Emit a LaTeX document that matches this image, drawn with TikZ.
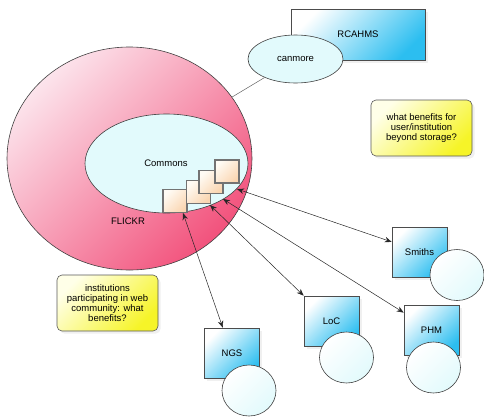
\documentclass[tikz,border=0pt]{standalone}
\usepackage{fontspec}
\setmainfont{Liberation Sans}
\usetikzlibrary{shapes.geometric,shadows,arrows.meta}
\definecolor{flickrlight}{RGB}{252,228,236}
\definecolor{flickrdark}{RGB}{242,82,124}
\definecolor{commonsfill}{RGB}{226,250,252}
\definecolor{orgblue}{RGB}{44,190,240}
\definecolor{notelight}{RGB}{255,255,232}
\definecolor{notedark}{RGB}{246,244,40}
\definecolor{photolight}{RGB}{255,251,244}
\definecolor{photodark}{RGB}{250,214,178}
\begin{document}
\begin{tikzpicture}[x=1pt,y=-1pt,font=\fontsize{9.5}{9.8}\selectfont,
  blob/.style={ellipse, draw=black!75, line width=0.6pt, inner sep=0pt},
  dot/.style={blob, top color=white, bottom color=commonsfill, shading angle=45, minimum width=54pt, minimum height=51pt},
  org/.style={rectangle, draw=black!70, line width=0.6pt, top color=white, bottom color=orgblue, shading angle=45, drop shadow={opacity=0.12}},
  inst/.style={org, minimum width=55pt, minimum height=50pt},
  note/.style={rectangle, rounded corners=5pt, draw=black!65, line width=0.6pt, top color=notelight, bottom color=notedark, shading angle=45, align=center, minimum width=101pt, minimum height=56pt, drop shadow={opacity=0.12}},
  photo/.style={rectangle, draw=black!55, line width=1.1pt, top color=photolight, bottom color=photodark, shading angle=45, minimum width=24pt, minimum height=23pt},
  link/.style={{Stealth[length=7pt,width=5.5pt]}-{Stealth[length=7pt,width=5.5pt]}, line width=0.5pt, black!85}]
\useasboundingbox (0,0) rectangle (484,418);

\node[blob, top color=flickrlight, bottom color=flickrdark, shading angle=45, minimum width=245pt, minimum height=223pt] (flickr) at (129.5,158.5){};
\node[blob, fill=commonsfill, minimum width=163pt, minimum height=99pt] (commons) at (166.5,163.5){};
\node (commonslbl) at (166,163) {Commons};
\node (flickrlbl) at (128,221) {FLICKR};

\node[org, minimum width=134pt, minimum height=51pt] (rcahms) at (358,34.5){RCAHMS};
\node[blob, fill=commonsfill, minimum width=95pt, minimum height=48pt] (canmore) at (295.5,59){canmore};
\draw[line width=0.5pt, black!60] (canmore) -- (flickr);

\node[note] (storage) at (421.5,128){what benefits for\\user/institution\\beyond storage?};
\node[note] (webq) at (107.5,303){institutions\\participating in web\\community: what\\benefits?};

\node[photo] (ph1) at (175,201){};
\node[photo] (ph2) at (198.5,192){};
\node[photo] (ph3) at (211,182){};
\node[photo] (ph4) at (227,171.5){};

\node[inst] (smiths) at (419.5,252){Smiths};
\node[dot] (smithsc) at (457,275){};
\node[inst] (loc) at (331.5,321){LoC};
\node[dot] (locc) at (346.5,357.5){};
\node[inst] (phm) at (431.5,330){PHM};
\node[dot] (phmc) at (433.5,367.5){};
\node[inst] (ngs) at (232,353){NGS};
\node[dot] (ngsc) at (249,390.5){};

\coordinate (tip1) at (183,213);
\coordinate (tip2) at (210,205);
\coordinate (tip3) at (223,199);
\coordinate (tip4) at (237,189);
\draw[link] (tip1) -- (ngs.110);
\draw[link] (tip2) -- (loc.north west);
\draw[link] (tip3) -- (phm.148);
\draw[link] (tip4) -- (smiths.160);

\end{tikzpicture}
\end{document}
